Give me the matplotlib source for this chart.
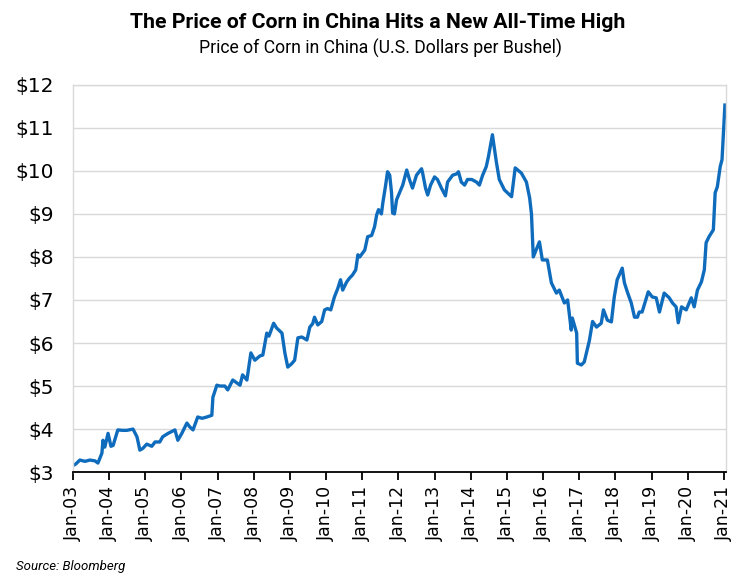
import numpy as np
import matplotlib
matplotlib.use("Agg")
import matplotlib.pyplot as plt

# decimal year of each reading, and the price (USD per bushel)
years = [
    2003.00, 2003.08, 2003.19, 2003.33, 2003.47, 2003.61, 2003.69, 2003.80, 2003.83, 2003.88,
    2003.97, 2004.05, 2004.11, 2004.24, 2004.38, 2004.49, 2004.66, 2004.77, 2004.85, 2004.93,
    2005.04, 2005.18, 2005.27, 2005.40, 2005.48, 2005.63, 2005.82, 2005.90, 2006.01, 2006.15,
    2006.23, 2006.32, 2006.45, 2006.57, 2006.70, 2006.84, 2006.87, 2006.98, 2007.06, 2007.20,
    2007.28, 2007.42, 2007.62, 2007.69, 2007.81, 2007.92, 2008.03, 2008.17, 2008.25, 2008.36,
    2008.42, 2008.55, 2008.63, 2008.78, 2008.86, 2008.94, 2009.05, 2009.13, 2009.22, 2009.33,
    2009.47, 2009.55, 2009.63, 2009.68, 2009.77, 2009.88, 2009.96, 2010.04, 2010.13, 2010.23,
    2010.32, 2010.40, 2010.46, 2010.57, 2010.65, 2010.73, 2010.82, 2010.88, 2010.93, 2011.07,
    2011.15, 2011.26, 2011.34, 2011.40, 2011.45, 2011.53, 2011.57, 2011.64, 2011.70, 2011.76,
    2011.81, 2011.84, 2011.89, 2011.95, 2012.03, 2012.12, 2012.23, 2012.31, 2012.39, 2012.50,
    2012.64, 2012.67, 2012.75, 2012.81, 2012.89, 2013.00, 2013.08, 2013.19, 2013.30, 2013.36,
    2013.50, 2013.61, 2013.66, 2013.74, 2013.83, 2013.91, 2014.03, 2014.16, 2014.24, 2014.33,
    2014.43, 2014.49, 2014.60, 2014.71, 2014.79, 2014.93, 2015.13, 2015.23, 2015.40, 2015.54,
    2015.63, 2015.68, 2015.73, 2015.90, 2015.98, 2016.12, 2016.23, 2016.37, 2016.45, 2016.59,
    2016.68, 2016.78, 2016.81, 2016.93, 2016.95, 2017.06, 2017.14, 2017.28, 2017.37, 2017.48,
    2017.61, 2017.67, 2017.78, 2017.89, 2017.97, 2018.05, 2018.19, 2018.25, 2018.33, 2018.44,
    2018.53, 2018.61, 2018.66, 2018.74, 2018.86, 2018.91, 2019.02, 2019.13, 2019.22, 2019.35,
    2019.49, 2019.58, 2019.68, 2019.74, 2019.83, 2019.96, 2020.10, 2020.18, 2020.27, 2020.38,
    2020.46, 2020.51, 2020.59, 2020.71, 2020.76, 2020.82, 2020.90, 2020.95, 2021.03,
]
prices = [
    3.15, 3.19, 3.28, 3.25, 3.28, 3.26, 3.21, 3.44, 3.74, 3.58,
    3.90, 3.60, 3.62, 3.98, 3.97, 3.97, 4.00, 3.82, 3.51, 3.55,
    3.65, 3.60, 3.70, 3.70, 3.82, 3.90, 3.98, 3.74, 3.90, 4.14,
    4.05, 3.98, 4.28, 4.25, 4.28, 4.32, 4.74, 5.02, 5.00, 5.00,
    4.91, 5.14, 5.02, 5.26, 5.14, 5.77, 5.60, 5.70, 5.72, 6.23,
    6.16, 6.46, 6.35, 6.23, 5.77, 5.44, 5.52, 5.60, 6.12, 6.14,
    6.07, 6.37, 6.45, 6.60, 6.42, 6.50, 6.77, 6.80, 6.77, 7.07,
    7.26, 7.47, 7.23, 7.42, 7.51, 7.58, 7.70, 8.05, 8.00, 8.16,
    8.47, 8.50, 8.70, 8.98, 9.10, 9.00, 9.26, 9.63, 9.98, 9.90,
    9.49, 9.02, 9.00, 9.33, 9.49, 9.67, 10.02, 9.79, 9.60, 9.90,
    10.05, 9.95, 9.60, 9.44, 9.67, 9.86, 9.80, 9.60, 9.42, 9.74,
    9.90, 9.93, 9.98, 9.74, 9.67, 9.80, 9.80, 9.74, 9.67, 9.90,
    10.10, 10.33, 10.84, 10.20, 9.80, 9.56, 9.40, 10.07, 9.95, 9.74,
    9.37, 9.00, 8.00, 8.35, 7.93, 7.93, 7.40, 7.16, 7.23, 6.93,
    7.00, 6.30, 6.58, 6.23, 5.53, 5.49, 5.56, 6.05, 6.50, 6.37,
    6.46, 6.77, 6.53, 6.49, 7.07, 7.47, 7.74, 7.40, 7.19, 6.93,
    6.60, 6.60, 6.72, 6.72, 7.05, 7.19, 7.07, 7.05, 6.72, 7.16,
    7.05, 6.93, 6.84, 6.47, 6.84, 6.77, 7.05, 6.84, 7.23, 7.42,
    7.70, 8.33, 8.47, 8.63, 9.49, 9.63, 10.10, 10.26, 11.53,
]

tick_years = list(range(2003, 2022))
tick_labels = [f"Jan-{y % 100:02d}" for y in tick_years]
y_ticks = list(range(3, 13))
y_labels = [f"${v}" for v in y_ticks]

LINE = "#0f6cbd"
GRID = "#d9d9d9"

fig = plt.figure(figsize=(7.5, 5.85), dpi=100)
ax = fig.add_axes([0.0973, 0.193, 0.8707, 0.662])

ax.plot(years, prices, color=LINE, linewidth=2.4, solid_joinstyle="round")

ax.set_xlim(2003, 2021.06)
ax.set_ylim(3, 12)
ax.set_yticks(y_ticks)
ax.set_yticklabels(y_labels, fontsize=14.5)
ax.set_xticks(tick_years)
ax.set_xticklabels(tick_labels, rotation=90, fontsize=12.5)
ax.grid(axis="y", color=GRID, linewidth=1)
ax.set_axisbelow(True)

for side in ("top", "left", "right"):
    ax.spines[side].set_color(GRID)
    ax.spines[side].set_linewidth(1)
ax.spines["bottom"].set_color("black")
ax.spines["bottom"].set_linewidth(1.3)
ax.tick_params(axis="y", length=0, pad=14)
ax.tick_params(axis="x", length=6, width=1.3, color="black", pad=4)

fig.text(0.504, 0.962, "The Price of Corn in China Hits a New All-Time High",
         ha="center", va="center", fontsize=15.3, fontweight="bold", family="Roboto")
fig.text(0.507, 0.917, "Price of Corn in China (U.S. Dollars per Bushel)",
         ha="center", va="center", fontsize=12.7, family="Roboto")
fig.text(0.021, 0.032, "Source: Bloomberg", ha="left", va="center",
         fontsize=9.5, style="italic", family="Roboto")

fig.savefig("out.png", dpi=100)
